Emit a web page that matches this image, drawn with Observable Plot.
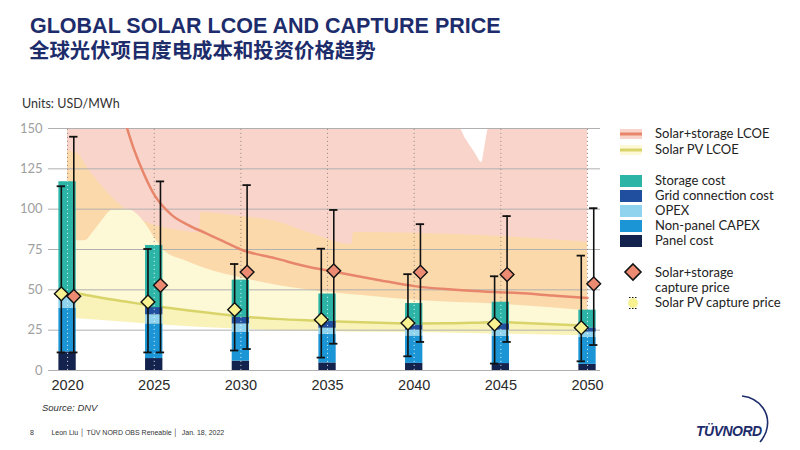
<!DOCTYPE html>
<html><head><meta charset="utf-8">
<script src="https://cdn.jsdelivr.net/npm/d3@7"></script>
<script src="https://cdn.jsdelivr.net/npm/@observablehq/plot@0.6"></script>
<style>
body{margin:0;background:#fff;}
#page{position:relative;width:800px;height:450px;overflow:hidden;font-family:Lato,"Open Sans",sans-serif;}
.abs{position:absolute;white-space:nowrap;}
#title{left:30px;top:16px;font:bold 21.5px/21px "Liberation Sans",Arial,sans-serif;color:#1d2c6b;}
#subtitle{left:29px;top:41px;font:bold 20.4px/20px "Liberation Sans","Noto Sans CJK SC",sans-serif;color:#1d2c6b;}
#units{left:22px;top:96px;font:12.5px/16px Lato,sans-serif;color:#333;}
#chart{left:0;top:118px;}
.lg{position:absolute;left:655px;font:13px/15px Lato,sans-serif;color:#222;white-space:nowrap;}
#source{left:42px;top:402px;font:italic 9.5px/12px "Liberation Sans",Arial,sans-serif;color:#333;}
#footer{left:30px;top:428px;font:7px/9px "Liberation Sans",Arial,sans-serif;color:#333;}
</style></head><body>
<div id="page">
  <div id="title" class="abs">GLOBAL SOLAR LCOE AND CAPTURE PRICE</div>
  <div id="subtitle" class="abs">全球光伏项目度电成本和投资价格趋势</div>
  <div id="units" class="abs">Units: USD/MWh</div>
  <div id="chart" class="abs"></div>
  <div id="legend"></div>
  <div id="source" class="abs">Source: DNV</div>
  <div id="footer" class="abs">8&nbsp;&nbsp;&nbsp;&nbsp;&nbsp;&nbsp;&nbsp;&nbsp;&nbsp;Leon Liu │ TÜV NORD OBS Reneable │&nbsp; Jan. 18, 2022</div>
  <svg class="abs" style="left:690px;top:390px" width="90" height="55">
    <path d="M52,6 C70,8 82,24 76,42 C74,47 72,50 70,52" fill="none" stroke="#1d2c6b" stroke-width="1.6"/>
    <text x="6" y="46" font-family="Liberation Sans Narrow, Liberation Sans, Arial" font-style="italic" font-weight="bold" font-size="14" fill="#1d2c6b" letter-spacing="-0.5">TÜVNORD</text>
  </svg>
</div>
<script>
// ---------- data ----------
const years = [2020, 2025, 2030, 2035, 2040, 2045, 2050];
const panelCost      = [11.5, 7.4, 5.8, 4.7, 4.4, 4.3, 3.8];
const nonPanelCapex  = [27.0, 21.5, 18.0, 17.6, 17.0, 17.0, 16.7];
const opex           = [7.7, 5.6, 5.0, 3.9, 3.6, 3.7, 3.3];
const gridConnection = [0.8, 4.5, 4.2, 4.2, 3.2, 4.0, 2.6];
const storageCost    = [70.0, 38.5, 23.0, 17.0, 13.3, 13.3, 11.0];

const pvCapture     = [47.5, 42.5, 37.7, 31.5, 29.4, 28.8, 26.5];
const pvCaptureLow  = [11.2, 11.2, 12.4, 8.0, 8.8, 4.3, 5.7];
const pvCaptureHigh = [114.2, 75.3, 66.0, 75.5, 59.7, 58.4, 71.2];
const ssCapture     = [46.0, 52.8, 61.0, 61.8, 60.9, 59.5, 53.7];
const ssCaptureLow  = [11.2, 11.2, 13.3, 16.6, 17.7, 17.7, 15.8];
const ssCaptureHigh = [144.9, 117.2, 114.9, 99.5, 90.7, 95.7, 100.6];

const pvYears = [2020, 2021, 2022, 2023, 2024, 2025, 2026, 2027, 2028, 2029, 2030, 2032, 2034, 2036, 2038, 2040, 2042, 2044, 2045, 2046, 2048, 2050];
const pvLcoe  = [49, 47, 45, 43.3, 41.6, 40, 38.6, 37.2, 35.9, 34.7, 33.5, 32, 31, 30.2, 29.6, 29.2, 29.3, 29.8, 30, 29.6, 28.7, 27.7];

const ssYears = [2023, 2023.8, 2024.4, 2025, 2026, 2027, 2028, 2029, 2030, 2032, 2034, 2035, 2036, 2038, 2040, 2042, 2044, 2046, 2048, 2050];
const ssLcoe  = [166, 138, 122, 109, 96.5, 90, 85, 80, 75, 69.5, 64, 62, 60, 56, 52.3, 50.3, 49, 48, 46.5, 45];

// range bands (upper boundaries of each colour layer)
const pinkYears = [2020, 2042.6, 2043.0, 2043.5, 2043.9, 2044.1, 2044.3, 2050];
const pinkTop   = [150, 150, 143, 135, 129, 140, 150, 150];
const peachYears = [2020, 2020.6, 2021, 2022, 2023, 2024, 2025, 2026, 2027.6, 2027.7, 2030, 2032, 2034, 2036.4, 2036.5, 2040, 2045, 2048, 2050];
const peachTop   = [136, 134.5, 128, 114, 103, 95, 90, 87.5, 85.5, 98, 95.5, 92.5, 85, 78, 85.5, 85, 83, 81, 79.5];
const creamYears = [2020, 2021, 2021.5, 2022, 2022.6, 2023.5, 2024, 2024.5, 2025.1, 2025.6, 2026.8, 2028, 2030, 2032, 2035, 2037, 2040, 2045, 2050];
const creamTop   = [80.5, 80.5, 86, 93, 99.5, 100, 97, 91, 81, 74, 68, 63, 57.5, 53, 48.5, 46.5, 43.5, 41, 37];
const bandLowYears = [2020, 2022, 2025, 2030, 2035, 2040, 2045, 2050];
const bandLow      = [32.5, 31, 28.5, 25.5, 24, 23.5, 22.5, 21.5];

const yTicks = [0, 25, 50, 75, 100, 125, 150];

// ---------- styles ----------
const compNames  = ["Panel cost", "Non-panel CAPEX", "OPEX", "Grid connection cost", "Storage cost"];
const compValues = [panelCost, nonPanelCapex, opex, gridConnection, storageCost];
const compColors = ["#14234d", "#1c95d6", "#8fd3ee", "#1f4f9e", "#2cb4a6"];
const C = {pink:"#f9d4ca", peach:"#fbd9ab", cream:"#fdf8d5", yellow:"#f9f3b9",
           ssLine:"#e8866b", pvLine:"#d8d46a", ssDot:"#ec8b72", pvDot:"#f7f191"};

// ---------- tables ----------
const bars = [];
years.forEach((yr, i) => {
  let acc = 0;
  compNames.forEach((n, k) => {
    const v = compValues[k][i];
    bars.push({year: yr, comp: n, y1: acc, y2: acc + v});
    acc += v;
  });
});
const totals = years.map((yr, i) => ({year: yr, top: compValues.reduce((s, a) => s + a[i], 0)}));
const pts = (xs, ys) => xs.map((x, i) => ({x, y: ys[i]}));
const off = 0.36;
const pv = years.map((yr, i) => ({x: yr - off, v: pvCapture[i], lo: pvCaptureLow[i], hi: pvCaptureHigh[i]}));
const ss = years.map((yr, i) => ({x: yr + off, v: ssCapture[i], lo: ssCaptureLow[i], hi: ssCaptureHigh[i]}));
const caps = d => [{x: d.x, y: d.lo}, {x: d.x, y: d.hi}];
const capPts = [...pv.flatMap(caps), ...ss.flatMap(caps)];

const band = (xs, ys, fill) => Plot.area(pts(xs, ys), {x1: "x", y1: 0, y2: "y", fill, curve: "monotone-x"});

const chart = Plot.plot({
  width: 610, height: 282,
  marginLeft: 48, marginRight: 10, marginTop: 10, marginBottom: 30,
  style: {background: "transparent", overflow: "visible"},
  x: {type: "linear", domain: [2018.9, 2050.75]},
  y: {domain: [0, 150]},
  color: {domain: compNames, range: compColors},
  marks: [
    band(pinkYears, pinkTop, C.pink),
    band(peachYears, peachTop, C.peach),
    band(creamYears, creamTop, C.cream),
    band(pvYears, pvLcoe, C.yellow),
    band(bandLowYears, bandLow, "#ffffff"),
    Plot.ruleY(yTicks, {stroke: "#b0b0b0", strokeWidth: 1}),
    Plot.ruleX(years, {y1: 0, y2: 150, stroke: "#a39089", strokeDasharray: "1.2,2.8", strokeWidth: 1}),
    Plot.line(pts(pvYears, pvLcoe), {x: "x", y: "y", stroke: C.pvLine, strokeWidth: 2.5, curve: "monotone-x"}),
    Plot.line(pts(ssYears, ssLcoe), {x: "x", y: "y", stroke: C.ssLine, strokeWidth: 2.5, curve: "monotone-x", clip: true}),
    Plot.rect(bars, {x1: d => d.year - 0.5, x2: d => d.year + 0.5, y1: "y1", y2: "y2", fill: "comp"}),
    Plot.ruleX(totals, {x: "year", y1: 0, y2: "top", stroke: "#ffffff", strokeOpacity: 0.75, strokeDasharray: "1.2,2.8"}),
    Plot.ruleX(pv, {x: "x", y1: "lo", y2: "hi", stroke: "#111", strokeWidth: 1.6}),
    Plot.ruleX(ss, {x: "x", y1: "lo", y2: "hi", stroke: "#111", strokeWidth: 1.6}),
    Plot.ruleY(capPts, {y: "y", x1: d => d.x - 0.24, x2: d => d.x + 0.24, stroke: "#111", strokeWidth: 1.8}),
    Plot.dot(pv, {x: "x", y: "v", symbol: "diamond2", r: 6.2, fill: C.pvDot, stroke: "#111", strokeWidth: 1.4}),
    Plot.dot(ss, {x: "x", y: "v", symbol: "diamond2", r: 6.2, fill: C.ssDot, stroke: "#111", strokeWidth: 1.4}),
    Plot.axisY({ticks: yTicks, tickSize: 0, tickPadding: 6, fill: "#a0a0a0", fontSize: 13, fontFamily: "Lato", label: null}),
    Plot.axisX({ticks: years, tickFormat: "d", tickSize: 0, tickPadding: 9, fill: "#2a2a2a", fontSize: 14.5, fontFamily: "Liberation Sans Narrow, Liberation Sans", label: null})
  ]
});
document.getElementById("chart").appendChild(chart);

// ---------- legend ----------
const page = document.getElementById("page");
function addText(txt, cy) {
  const d = document.createElement("div");
  d.className = "lg"; d.textContent = txt; d.style.top = (cy - 8) + "px";
  page.appendChild(d);
}
function addSvg(html, cy) {
  const s = document.createElementNS("http://www.w3.org/2000/svg", "svg");
  s.setAttribute("width", 30); s.setAttribute("height", 24);
  s.style.position = "absolute"; s.style.left = "615px"; s.style.top = (cy - 12) + "px";
  s.innerHTML = html; page.appendChild(s);
}
const lineLegend = [["Solar+storage LCOE", C.pink, C.ssLine, 134], ["Solar PV LCOE", C.cream, C.pvLine, 150]];
lineLegend.forEach(([t, bg, ln, cy]) => {
  addSvg(`<rect x="5" y="7" width="22" height="10" fill="${bg}"/><line x1="5" x2="27" y1="12" y2="12" stroke="${ln}" stroke-width="3"/>`, cy);
  addText(t, cy);
});
const barLegendY = [181, 196, 211, 226, 241];
const barOrder = ["Storage cost", "Grid connection cost", "OPEX", "Non-panel CAPEX", "Panel cost"];
barOrder.forEach((n, i) => {
  const col = compColors[compNames.indexOf(n)];
  addSvg(`<rect x="5" y="6" width="22" height="12" fill="${col}"/>`, barLegendY[i]);
  addText(n, barLegendY[i]);
});
addSvg(`<path d="M18,4 L26,12 L18,20 L10,12 Z" fill="${C.ssDot}" stroke="#111" stroke-width="1.6"/>`, 272);
addText("Solar+storage", 273);
addText("capture price", 288);
addSvg(`<circle cx="18" cy="12" r="5" fill="${C.pvDot}"/><line x1="14" x2="22" y1="6.5" y2="6.5" stroke="#111" stroke-width="1" stroke-dasharray="1.5,1.5"/><line x1="14" x2="22" y1="17.5" y2="17.5" stroke="#111" stroke-width="1" stroke-dasharray="1.5,1.5"/>`, 303);
addText("Solar PV capture price", 303);
</script>
</body></html>
